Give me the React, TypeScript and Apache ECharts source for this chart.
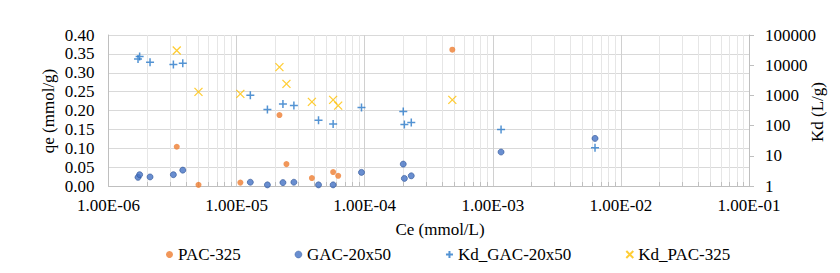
import React, { useEffect, useRef } from "react";
import * as echarts from "echarts";

const gacCe = [1.70e-6, 1.75e-6, 2.11e-6, 3.21e-6, 3.80e-6, 1.28e-5, 1.74e-5, 2.30e-5, 2.80e-5, 4.36e-5, 5.67e-5, 9.44e-5, 2.00e-4, 2.04e-4, 2.31e-4, 1.16e-3, 6.28e-3];
const gacQe = [0.023, 0.030, 0.024, 0.030, 0.042, 0.010, 0.003, 0.009, 0.010, 0.003, 0.003, 0.036, 0.058, 0.020, 0.027, 0.090, 0.126];
const gacKd = [15900, 19400, 12600, 10500, 11700, 1017, 339, 524, 460, 151, 114, 397, 291, 108, 126, 74, 18.6];

const pacCe = [3.41e-6, 5.04e-6, 1.07e-5, 2.16e-5, 2.45e-5, 3.87e-5, 5.67e-5, 6.21e-5, 4.83e-4];
const pacQe = [0.104, 0.003, 0.009, 0.188, 0.058, 0.021, 0.037, 0.027, 0.361];
const pacKd = [30700, 1310, 1120, 8610, 2410, 610, 710, 460, 710];

const seriesNames = ["PAC-325", "GAC-20x50", "Kd_GAC-20x50", "Kd_PAC-325"];

const decadeExps = [-6, -5, -4, -3, -2];
const minorMults = [2, 3, 4, 5, 6, 7, 8, 9];

const FONT = "'Times New Roman', 'Liberation Serif', 'DejaVu Serif', serif";

function fmtE(v: number): string {
  const e = Math.round(Math.log10(v));
  const m = v / Math.pow(10, e);
  return m.toFixed(2) + "E" + (e < 0 ? "-" : "+") + String(Math.abs(e)).padStart(2, "0");
}

export default function App() {
  const ref = useRef<HTMLDivElement>(null);
  useEffect(() => {
    if (!ref.current) return;
    const chart = echarts.init(ref.current, undefined, { renderer: "svg" });
    const minorVals: number[][] = [];
    decadeExps.forEach((e) => minorMults.forEach((m) => minorVals.push([m * Math.pow(10, e), 0])));

    const plusPath = "path://M0,5L10,5M5,0L5,10";
    const crossPath = "path://M0,0L10,10M10,0L0,10";
    const txt = (text: string, x: number, y: number, rot: number) => ({
      type: "text",
      x,
      y,
      rotation: rot,
      style: { text, fontFamily: FONT, fontSize: 17, fill: "#000", align: "center", verticalAlign: "middle" },
    });

    chart.setOption({
      animation: false,
      backgroundColor: "#fff",
      textStyle: { fontFamily: FONT },
      grid: { left: 108.5, right: 91, top: 35, bottom: 87, containLabel: false },
      xAxis: {
        type: "log",
        logBase: 10,
        min: 1e-6,
        max: 1e-1,
        splitNumber: 5,
        axisLine: { show: true, lineStyle: { color: "#BFBFBF", width: 1 } },
        axisTick: { show: false },
        axisLabel: { color: "#000", fontSize: 17, fontFamily: FONT, margin: 11, formatter: (v: number) => fmtE(v) },
        splitLine: { show: true, lineStyle: { color: "#D0D0D0", width: 1 } },
      },
      yAxis: [
        {
          type: "value",
          min: 0,
          max: 0.4,
          interval: 0.05,
          axisLine: { show: true, lineStyle: { color: "#BFBFBF", width: 1 } },
          axisTick: { show: false },
          axisLabel: { color: "#000", fontSize: 17, fontFamily: FONT, margin: 14, formatter: (v: number) => v.toFixed(2) },
          splitLine: { show: true, lineStyle: { color: "#D9D9D9", width: 1 } },
        },
        {
          type: "log",
          logBase: 10,
          min: 1,
          max: 100000,
          splitNumber: 5,
          position: "right",
          axisLine: { show: true, lineStyle: { color: "#BFBFBF", width: 1 } },
          axisTick: { show: true, inside: false, length: 5, lineStyle: { color: "#BFBFBF" } },
          axisLabel: { color: "#000", fontSize: 17, fontFamily: FONT, margin: 16, formatter: (v: number) => String(Math.round(v)) },
          splitLine: { show: false },
        },
      ],
      legend: {
        data: [
          { name: seriesNames[0] },
          { name: seriesNames[1], itemStyle: { borderWidth: 0.5 } },
          { name: seriesNames[2] },
          { name: seriesNames[3] },
        ],
        left: 161,
        top: 241,
        itemWidth: 7,
        itemHeight: 7,
        itemGap: 54,
        textStyle: { color: "#000", fontSize: 17, fontFamily: FONT },
      },
      graphic: [
        txt("qe (mmol/g)", 48, 111, Math.PI / 2),
        txt("Kd (L/g)", 817, 112, Math.PI / 2),
        txt("Ce (mmol/L)", 440, 229, 0),
      ],
      series: [
        {
          type: "custom",
          name: "minorGrid",
          silent: true,
          z: 1,
          xAxisIndex: 0,
          yAxisIndex: 0,
          encode: { x: 0, y: 1 },
          data: minorVals,
          renderItem: (params: any, api: any) => {
            const v = api.value(0);
            const p0 = api.coord([v, 0]);
            const p1 = api.coord([v, 0.4]);
            const x = Math.round(p0[0]) + 0.5;
            return {
              type: "group",
              children: [
                { type: "line", shape: { x1: x, y1: p0[1], x2: x, y2: p1[1] }, style: { stroke: "#E6E6E6", lineWidth: 1 } },
                { type: "line", shape: { x1: x, y1: p0[1], x2: x, y2: p0[1] - 4 }, style: { stroke: "#BFBFBF", lineWidth: 1 } },
              ],
            };
          },
        },
        {
          type: "scatter",
          name: seriesNames[0],
          z: 3,
          yAxisIndex: 0,
          symbol: "circle",
          symbolSize: 6,
          itemStyle: { color: "#ED7D31" },
          data: pacCe.map((c, i) => [c, pacQe[i]]),
        },
        {
          type: "scatter",
          name: seriesNames[1],
          z: 3,
          yAxisIndex: 0,
          symbol: "circle",
          symbolSize: 6,
          itemStyle: { color: "#4472C4", borderColor: "#2F5597", borderWidth: 0.8 },
          data: gacCe.map((c, i) => [c, gacQe[i]]),
        },
        {
          type: "scatter",
          name: seriesNames[2],
          z: 3,
          yAxisIndex: 1,
          symbol: plusPath,
          symbolSize: 8,
          itemStyle: { color: "#2878C8", borderColor: "#2878C8", borderWidth: 1.5 },
          data: gacCe.map((c, i) => [c, gacKd[i]]),
        },
        {
          type: "scatter",
          name: seriesNames[3],
          z: 3,
          yAxisIndex: 1,
          symbol: crossPath,
          symbolSize: 8,
          itemStyle: { color: "#FFC000", borderColor: "#FFC000", borderWidth: 1.3 },
          data: pacCe.map((c, i) => [c, pacKd[i]]),
        },
      ],
    });
    return () => chart.dispose();
  }, []);
  return <div ref={ref} style={{ position: "fixed", left: 0, top: 0, width: 840, height: 273 }} />;
}
